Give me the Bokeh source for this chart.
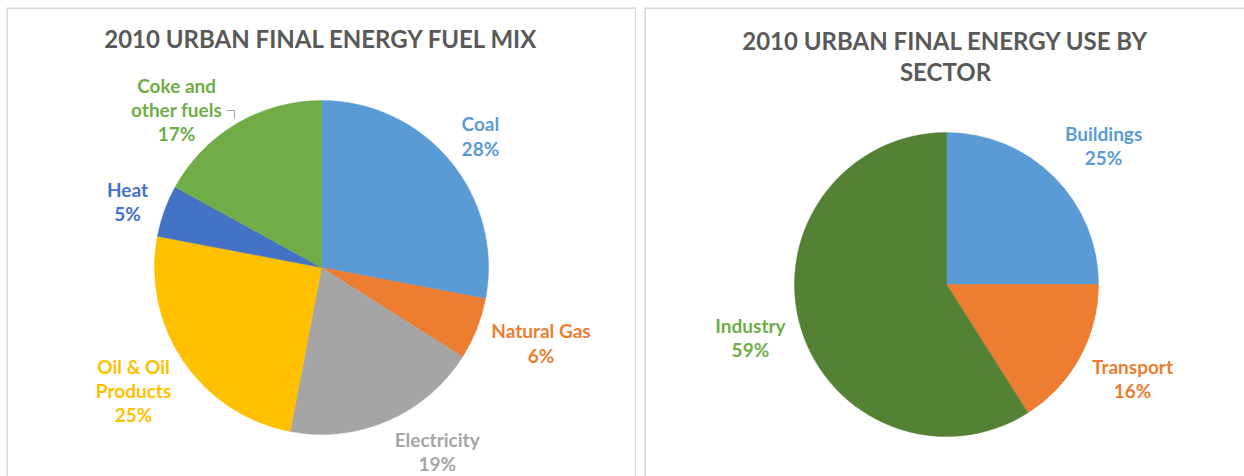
import numpy as np
from bokeh.plotting import figure
from bokeh.models import Range1d, Label, Span
from bokeh.layouts import row
from bokeh.core.properties import value
from bokeh.embed import file_html
from bokeh.resources import INLINE

# ---- data ----
fuel_names = ["Coal", "Natural Gas", "Electricity", "Oil & Oil\nProducts", "Heat", "Coke and\nother fuels"]
fuel_values = [28, 6, 19, 25, 5, 17]
fuel_colors = ["#5b9bd5", "#ed7d31", "#a5a5a5", "#ffc000", "#4472c4", "#70ad47"]
fuel_label_colors = ["#5b9bd5", "#ed7d31", "#a5a5a5", "#ffc000", "#4472c4", "#70ad47"]

sector_names = ["Buildings", "Transport", "Industry"]
sector_values = [25, 16, 59]
sector_colors = ["#5b9bd5", "#ed7d31", "#548235"]
sector_label_colors = ["#5b9bd5", "#ed7d31", "#70ad47"]

title1 = "2010 URBAN FINAL ENERGY FUEL MIX"
title2 = ["2010 URBAN FINAL ENERGY USE BY", "SECTOR"]

# ---- layout (label radial factor, angle nudge in degrees) ----
fuel_lab_f = [1.235, 1.39, 1.30, 1.345, 1.227, 1.284]
fuel_lab_d = [0.0, 2.6, 8.8, -1.0, 1.0, 11.9]
sector_lab_f = [1.38, 1.371, 1.336]
sector_lab_d = [-3.5, 2.0, -1.1]

FONT = "Lato"
H = 469
TITLE_SIZE = "24px"
LABEL_SIZE = "19px"
BORDER = "#d9d9d9"


def make_pie(width, cx, cy, r, names, vals, colors, lcolors, lf, ld, borders):
    p = figure(width=width, height=H, output_backend="svg", toolbar_location=None,
               x_range=Range1d(-cx / r, (width - cx) / r),
               y_range=Range1d(-(H - cy) / r, cy / r),
               min_border=0, tools="")
    p.axis.visible = False
    p.grid.visible = False
    p.outline_line_color = None
    # panel borders
    if "left" in borders:
        p.add_layout(Span(location=p.x_range.start, dimension="height",
                          line_color=BORDER, line_width=3))
    if "right" in borders:
        p.add_layout(Span(location=p.x_range.end, dimension="height",
                          line_color=BORDER, line_width=3))
    if "top" in borders:
        p.add_layout(Span(location=p.y_range.end, dimension="width",
                          line_color=BORDER, line_width=3))
    v = np.array(vals, dtype=float)
    frac = v / v.sum()
    cum = np.concatenate([[0], np.cumsum(frac)])
    start = np.pi / 2 - 2 * np.pi * cum[:-1]
    end = np.pi / 2 - 2 * np.pi * cum[1:]
    p.wedge(x=0, y=0, radius=1, start_angle=start, end_angle=end, direction="clock",
            fill_color=colors, line_color=colors, line_width=0.5)
    mid = (start + end) / 2 + np.radians(ld)
    lx = np.array(lf) * np.cos(mid)
    ly = np.array(lf) * np.sin(mid)
    texts = [f"{n}\n{int(val)}%" for n, val in zip(names, vals)]
    p.text(x=lx, y=ly, text=texts, text_color=lcolors, text_align="center",
           text_baseline="middle", text_font=value(FONT), text_font_size=LABEL_SIZE,
           text_font_style="bold", text_line_height=1.06)
    return p


# left panel: page offset (6, 7); pie centre page (321, 267), radius 167
p1 = make_pie(630, 315, 260, 167, fuel_names, fuel_values, fuel_colors,
              fuel_label_colors, fuel_lab_f, fuel_lab_d, ["left", "right", "top"])
p1.margin = (7, 0, 0, 6)
p1.add_layout(Label(x=315, y=H - 31, x_units="screen", y_units="screen", text=title1,
                    text_align="center", text_baseline="middle", text_font=FONT,
                    text_font_size=TITLE_SIZE, text_font_style="bold", text_color="#595959"))
# small leader line for Coke label (pixel offsets from pie centre)
r1 = 167
lx = np.array([-95, -87, -87]) / r1
ly = np.array([157, 157, 149]) / r1
p1.line(lx, ly, line_color="#a6a6a6", line_width=1)

# right panel: page offset (644, 7); pie centre page (946, 284), radius 152
p2 = make_pie(600, 302, 277, 152, sector_names, sector_values, sector_colors,
              sector_label_colors, sector_lab_f, sector_lab_d, ["left", "top"])
p2.margin = (7, 0, 0, 0)
for i, t in enumerate(title2):
    p2.add_layout(Label(x=301, y=H - 33 - 31 * i, x_units="screen", y_units="screen", text=t,
                        text_align="center", text_baseline="middle", text_font=FONT,
                        text_font_size=TITLE_SIZE, text_font_style="bold", text_color="#595959"))

layout = row(p1, p2, spacing=8)
open("out.html", "w").write(file_html(layout, INLINE))
